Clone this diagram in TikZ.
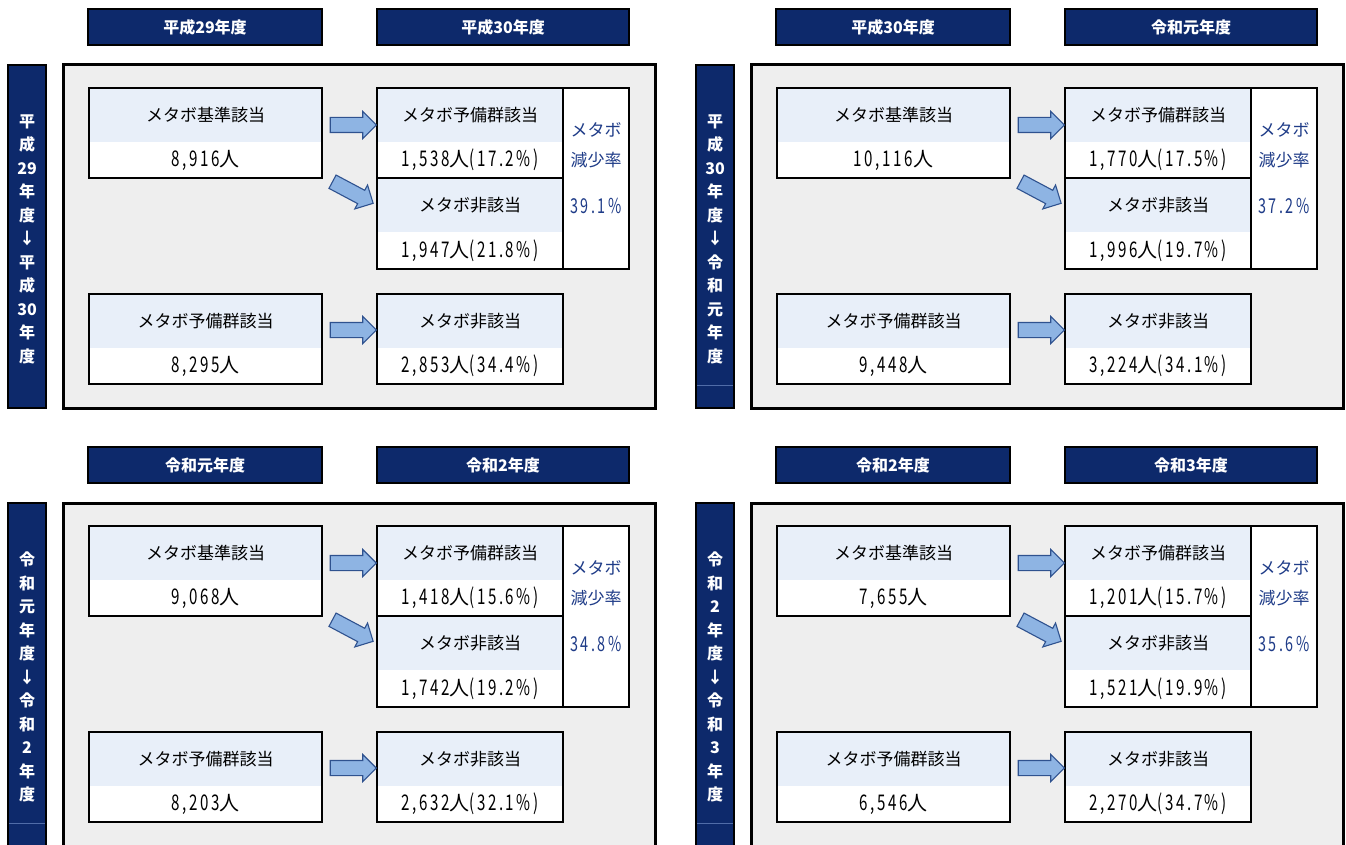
\documentclass[tikz,border=0pt]{standalone}
\usepackage{fontspec}
\setmainfont{Noto Sans CJK JP}
\newfontfamily\numfont{Noto Sans CJK JP}[Scale=1.08,FakeStretch=0.7,LetterSpace=12]
\usetikzlibrary{shapes.arrows,calc}

\definecolor{navy}{RGB}{13,41,107}
\definecolor{boxblue}{RGB}{232,239,249}
\definecolor{panelgray}{RGB}{238,238,238}
\definecolor{arrowfill}{RGB}{142,180,227}
\definecolor{arrowline}{RGB}{47,82,143}
\definecolor{ratetext}{RGB}{31,60,136}
\definecolor{sideline}{RGB}{80,108,168}

\newcommand{\nf}[1]{{\numfont #1}}

\tikzset{
  intest/.style={draw=black, line width=1.5pt, fill=navy, text=white, minimum height=36pt, inner sep=0pt, outer sep=0pt, font=\bfseries\fontsize{16}{16}\selectfont},
  barra/.style={draw=black, line width=1.5pt, fill=navy, minimum width=38pt, inner sep=0pt, outer sep=0pt},
  barratesto/.style={text=white, align=center, font=\bfseries\fontsize{16}{23.5}\selectfont, inner sep=0pt},
  pannello/.style={draw=black, line width=3pt, fill=panelgray, minimum width=592pt, inner sep=0pt, outer sep=0pt},
  scatola/.style={draw=black, line width=1.8pt, fill=white, minimum height=90pt, inner sep=0pt, outer sep=0pt,
    path picture={\fill[boxblue] (path picture bounding box.north west) rectangle ([yshift=-54pt]path picture bounding box.north east);}},
  tasso/.style={draw=black, line width=1.8pt, fill=white, minimum width=66pt, minimum height=181pt, inner sep=0pt, outer sep=0pt},
  titolo/.style={font=\fontsize{17}{17}\selectfont, inner sep=0pt},
  conta/.style={font=\fontsize{20}{20}\selectfont, inner sep=0pt},
  tassotesto/.style={text=ratetext, font=\fontsize{17}{17}\selectfont, inner sep=0pt},
  freccia/.style={single arrow, draw=arrowline, fill=arrowfill, line width=1.1pt, minimum height=46pt,
    inner xsep=0pt, inner ysep=7pt, single arrow head extend=6pt, single arrow tip angle=90}
}

\begin{document}
\begin{tikzpicture}[x=1pt,y=-1pt]

    % Area
    \path[use as bounding box, fill=white] (0,0) rectangle (1346,845);
    \clip (0,0) rectangle (1346,845);

    % Quattro pannelli
    \foreach \dx/\dy/\ph/\sl/\ha/\hb/\side/\ka/\ya/\hia/\rt/\yb/\hib/\p in {
        0/0/343/0/平成29年度/平成30年度/{平\\成\\29\\年\\度\\↓\\平\\成\\30\\年\\度}/{\nf{8,916}人}/{\nf{1,538}人\nf{(17.2\%)}}/{\nf{1,947}人\nf{(21.8\%)}}/{39.1\%}/{\nf{8,295}人}/{\nf{2,853}人\nf{(34.4\%)}}/1,
        688/0/343/1/平成30年度/令和元年度/{平\\成\\30\\年\\度\\↓\\令\\和\\元\\年\\度}/{\nf{10,116}人}/{\nf{1,770}人\nf{(17.5\%)}}/{\nf{1,996}人\nf{(19.7\%)}}/{37.2\%}/{\nf{9,448}人}/{\nf{3,224}人\nf{(34.1\%)}}/2,
        0/438/360/1/令和元年度/令和2年度/{令\\和\\元\\年\\度\\↓\\令\\和\\2\\年\\度}/{\nf{9,068}人}/{\nf{1,418}人\nf{(15.6\%)}}/{\nf{1,742}人\nf{(19.2\%)}}/{34.8\%}/{\nf{8,203}人}/{\nf{2,632}人\nf{(32.1\%)}}/3,
        688/438/360/1/令和2年度/令和3年度/{令\\和\\2\\年\\度\\↓\\令\\和\\3\\年\\度}/{\nf{7,655}人}/{\nf{1,201}人\nf{(15.7\%)}}/{\nf{1,521}人\nf{(19.9\%)}}/{35.6\%}/{\nf{6,546}人}/{\nf{2,270}人\nf{(34.7\%)}}/4} {
    \begin{scope}[shift={(\dx,\dy)}]

        % Intestazioni
        \node[intest, minimum width=234pt, anchor=north west] (hA\p) at (88,9) {\ha};
        \node[intest, minimum width=252pt, anchor=north west] (hB\p) at (377,9) {\hb};

        % Barra laterale
        \node[barra, minimum height=\ph pt, anchor=north west] (side\p) at (8,65) {};
        \node[barratesto] (sideT\p) at ([yshift=-174pt]side\p.north) {\side};
        \ifnum\sl=1
            \draw[sideline, line width=1pt] ([xshift=1pt,yshift=-320pt]side\p.north west) -- ([xshift=-1pt,yshift=-320pt]side\p.north east);
        \fi

        % Pannello e riquadri
        \node[pannello, minimum height=\ph pt, anchor=north west] (panel\p) at (63,65) {};
        \node[scatola, minimum width=233pt, anchor=north west] (kijun\p) at (89,88) {};
        \node[tasso, anchor=north west] (rate\p) at (563,88) {};
        \node[scatola, minimum width=186pt, anchor=north west] (yobi\p) at (377,88) {};
        \node[scatola, minimum width=186pt, minimum height=91pt, anchor=north west] (hi\p) at (377,178) {};
        \node[scatola, minimum width=233pt, anchor=north west] (yobiA\p) at (89,294) {};
        \node[scatola, minimum width=186pt, anchor=north west] (hiA\p) at (377,294) {};

        % Testi
        \node[titolo] (kijunT\p) at ([yshift=-27pt]kijun\p.north) {メタボ基準該当};
        \node[conta] (kijunC\p) at ([yshift=18pt]kijun\p.south) {\ka};
        \node[titolo] (yobiT\p) at ([yshift=-27pt]yobi\p.north) {メタボ予備群該当};
        \node[conta] (yobiC\p) at ([yshift=18pt]yobi\p.south) {\ya};
        \node[titolo] (hiT\p) at ([yshift=-27pt]hi\p.north) {メタボ非該当};
        \node[conta] (hiC\p) at ([yshift=18pt]hi\p.south) {\hia};
        \node[titolo] (yobiAT\p) at ([yshift=-27pt]yobiA\p.north) {メタボ予備群該当};
        \node[conta] (yobiAC\p) at ([yshift=18pt]yobiA\p.south) {\yb};
        \node[titolo] (hiAT\p) at ([yshift=-27pt]hiA\p.north) {メタボ非該当};
        \node[conta] (hiAC\p) at ([yshift=18pt]hiA\p.south) {\hib};

        % Tasso di riduzione
        \node[tassotesto] (rateA\p) at ([yshift=-42pt]rate\p.north) {メタボ};
        \node[tassotesto] (rateB\p) at ([yshift=-72pt]rate\p.north) {減少率};
        \node[tassotesto, font=\fontsize{19}{19}\selectfont] (rateC\p) at ([yshift=-118pt]rate\p.north) {\nf{\rt}};

        % Frecce
        \node[freccia, yshift=8pt] (ar1\p) at ($(kijun\p.east)!0.5!(yobi\p.west)$) {};
        \node[freccia, yshift=10pt, rotate=-28] (ar2\p) at ($(kijun\p.south east)!0.5!(hi\p.west)$) {};
        \node[freccia, yshift=9pt] (ar3\p) at ($(yobiA\p.east)!0.5!(hiA\p.west)$) {};

    \end{scope}
    }

\end{tikzpicture}
\end{document}
